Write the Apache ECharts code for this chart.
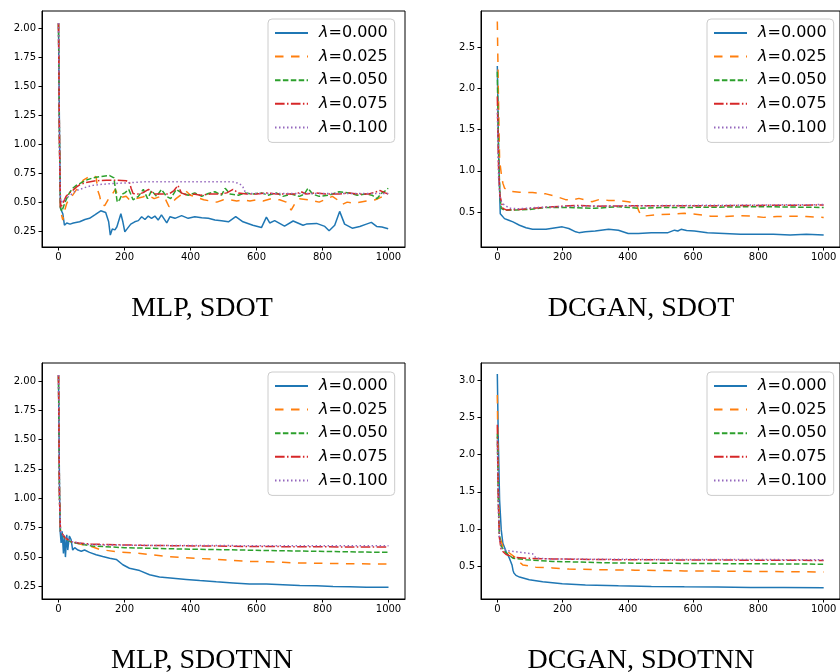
<!DOCTYPE html>
<html>
<head>
<meta charset="utf-8">
<script src="https://cdn.jsdelivr.net/npm/echarts@6/dist/echarts.min.js"></script>
<style>html,body{margin:0;padding:0;background:#fff;}#c{width:840px;height:672px;}</style>
</head>
<body>
<div id="c"></div>
<script>
// ---------- data ----------
const seriesNames = ['λ=0.000', 'λ=0.025', 'λ=0.050', 'λ=0.075', 'λ=0.100'];
const panelTitles = ['MLP, SDOT', 'DCGAN, SDOT', 'MLP, SDOTNN', 'DCGAN, SDOTNN'];
const xTicks = [0, 200, 400, 600, 800, 1000];
const yTicksMLP = [0.25, 0.50, 0.75, 1.00, 1.25, 1.50, 1.75, 2.00];
const yTicksDCSDOT = [0.5, 1.0, 1.5, 2.0, 2.5];
const yTicksDCNN = [0.5, 1.0, 1.5, 2.0, 2.5, 3.0];

// MLP, SDOT
const mlpSdot0 = [[0,2.05],[3,1.1],[6,0.45],[10,0.42],[13,0.40],[18,0.30],[25,0.32],[35,0.31],[45,0.32],[64,0.33],[80,0.35],[94,0.36],[110,0.39],[128,0.425],[143,0.41],[152,0.33],[157,0.215],[163,0.267],[171,0.26],[177,0.287],[189,0.40],[195,0.33],[201,0.244],[209,0.273],[219,0.31],[231,0.33],[242,0.34],[252,0.374],[262,0.35],[272,0.38],[282,0.36],[292,0.38],[302,0.345],[312,0.39],[328,0.32],[338,0.374],[353,0.36],[373,0.383],[393,0.36],[413,0.374],[434,0.365],[454,0.36],[474,0.345],[494,0.34],[515,0.33],[537,0.374],[559,0.33],[589,0.30],[615,0.28],[630,0.37],[640,0.32],[655,0.34],[685,0.293],[711,0.337],[741,0.30],[751,0.31],[782,0.316],[807,0.29],[820,0.253],[837,0.30],[852,0.42],[867,0.31],[890,0.275],[913,0.29],[933,0.31],[948,0.325],[964,0.29],[980,0.285],[999,0.27]];
const mlpSdot1 = [[0,2.05],[3,1.0],[6,0.45],[10,0.38],[13,0.345],[18,0.42],[25,0.49],[35,0.54],[43,0.56],[55,0.61],[64,0.64],[75,0.69],[84,0.705],[99,0.73],[114,0.72],[119,0.60],[125,0.55],[130,0.48],[140,0.47],[150,0.52],[161,0.56],[172,0.61],[180,0.56],[190,0.54],[205,0.55],[215,0.52],[235,0.53],[255,0.545],[270,0.56],[290,0.53],[310,0.55],[325,0.52],[335,0.46],[345,0.50],[356,0.53],[370,0.56],[385,0.60],[400,0.56],[420,0.54],[440,0.52],[460,0.51],[480,0.50],[500,0.52],[520,0.52],[540,0.51],[560,0.52],[580,0.51],[600,0.52],[620,0.51],[645,0.53],[670,0.52],[690,0.50],[705,0.43],[715,0.48],[730,0.53],[760,0.52],[790,0.50],[830,0.55],[845,0.52],[860,0.48],[875,0.50],[895,0.49],[933,0.51],[960,0.52],[983,0.55],[999,0.54]];
const mlpSdot2 = [[0,2.04],[3,1.0],[6,0.45],[10,0.42],[15,0.46],[23,0.52],[33,0.58],[43,0.62],[54,0.645],[64,0.66],[84,0.69],[104,0.71],[124,0.72],[155,0.73],[168,0.71],[172,0.62],[178,0.50],[185,0.52],[193,0.57],[201,0.58],[213,0.61],[226,0.52],[242,0.55],[257,0.61],[270,0.53],[282,0.60],[297,0.55],[312,0.61],[327,0.55],[340,0.53],[357,0.61],[373,0.58],[393,0.56],[413,0.58],[434,0.55],[454,0.575],[474,0.59],[494,0.56],[505,0.62],[520,0.57],[545,0.56],[565,0.58],[590,0.57],[615,0.58],[635,0.56],[660,0.58],[680,0.55],[705,0.57],[730,0.55],[745,0.57],[756,0.62],[770,0.57],[790,0.55],[820,0.56],[850,0.59],[880,0.58],[905,0.56],[930,0.57],[950,0.56],[965,0.53],[980,0.58],[992,0.60],[999,0.62]];
const mlpSdot3 = [[0,2.05],[3,1.0],[6,0.45],[10,0.44],[15,0.50],[23,0.55],[33,0.58],[43,0.60],[54,0.63],[64,0.65],[84,0.67],[114,0.685],[145,0.69],[175,0.69],[205,0.685],[215,0.67],[220,0.62],[226,0.575],[240,0.57],[255,0.58],[273,0.61],[290,0.57],[310,0.57],[335,0.57],[350,0.60],[362,0.645],[372,0.58],[390,0.56],[410,0.57],[430,0.56],[460,0.57],[490,0.57],[510,0.58],[529,0.61],[545,0.58],[570,0.57],[600,0.57],[630,0.58],[660,0.57],[690,0.57],[720,0.57],[735,0.59],[750,0.57],[780,0.58],[810,0.57],[850,0.57],[880,0.58],[910,0.57],[940,0.57],[975,0.60],[990,0.58],[999,0.57]];
const mlpSdot4 = [[0,2.05],[3,1.0],[6,0.50],[9,0.50],[15,0.51],[23,0.53],[33,0.555],[43,0.575],[50,0.595],[64,0.61],[84,0.63],[104,0.645],[124,0.652],[151,0.658],[180,0.663],[212,0.667],[250,0.675],[300,0.677],[400,0.677],[500,0.677],[530,0.675],[549,0.66],[559,0.63],[566,0.585],[575,0.575],[700,0.575],[800,0.575],[900,0.575],[999,0.575]];

// DCGAN, SDOT
const dcSdot0 = [[0,2.27],[4,1.2],[9,0.48],[22,0.42],[35,0.40],[48,0.38],[68,0.34],[88,0.31],[108,0.29],[149,0.29],[179,0.31],[199,0.32],[219,0.30],[240,0.26],[250,0.25],[270,0.26],[300,0.27],[341,0.29],[371,0.28],[401,0.24],[432,0.24],[472,0.25],[523,0.25],[543,0.28],[553,0.27],[563,0.29],[580,0.275],[604,0.27],[644,0.25],[695,0.24],[745,0.23],[796,0.23],[846,0.23],[897,0.22],[947,0.23],[1000,0.22]];
const dcSdot1 = [[0,2.81],[3,2.0],[7,1.13],[12,0.97],[17,0.85],[22,0.79],[37,0.75],[68,0.74],[108,0.735],[149,0.72],[179,0.69],[209,0.65],[230,0.645],[250,0.665],[270,0.645],[290,0.625],[315,0.655],[341,0.64],[371,0.64],[401,0.625],[427,0.60],[432,0.525],[440,0.46],[447,0.45],[482,0.465],[533,0.475],[573,0.485],[614,0.47],[654,0.45],[695,0.445],[735,0.455],[776,0.45],[816,0.435],[857,0.445],[897,0.45],[947,0.445],[1000,0.435]];
const dcSdot2 = [[0,2.2],[4,1.2],[8,0.7],[12,0.545],[22,0.52],[58,0.525],[98,0.53],[149,0.555],[219,0.555],[300,0.545],[371,0.565],[432,0.545],[500,0.555],[573,0.555],[700,0.56],[800,0.565],[900,0.56],[1000,0.555]];
const dcSdot3 = [[0,1.9],[4,1.0],[8,0.7],[17,0.545],[27,0.525],[68,0.53],[120,0.55],[171,0.565],[250,0.58],[300,0.57],[400,0.575],[600,0.575],[800,0.58],[1000,0.585]];
const dcSdot4 = [[0,1.75],[4,0.9],[9,0.65],[17,0.60],[37,0.545],[68,0.54],[120,0.555],[220,0.57],[400,0.575],[600,0.58],[800,0.585],[1000,0.59]];

// MLP, SDOTNN
const mlpNN0 = [[0,2.05],[3,1.1],[5,0.72],[8,0.62],[11,0.72],[15,0.53],[18,0.68],[21,0.50],[25,0.69],[28,0.56],[33,0.68],[38,0.65],[43,0.56],[49,0.58],[59,0.56],[69,0.55],[79,0.56],[94,0.54],[114,0.52],[134,0.505],[155,0.49],[175,0.48],[195,0.435],[215,0.405],[246,0.385],[276,0.35],[306,0.33],[347,0.32],[387,0.31],[428,0.30],[478,0.29],[529,0.28],[579,0.27],[630,0.27],[680,0.264],[731,0.258],[782,0.255],[832,0.25],[883,0.247],[933,0.244],[1000,0.244]];
const mlpNN1 = [[0,2.05],[3,1.0],[6,0.72],[20,0.66],[40,0.63],[60,0.615],[80,0.60],[100,0.59],[124,0.565],[151,0.555],[175,0.545],[232,0.535],[282,0.52],[327,0.505],[377,0.495],[428,0.488],[478,0.48],[529,0.472],[579,0.463],[630,0.46],[680,0.455],[731,0.45],[808,0.447],[900,0.443],[1000,0.44]];
const mlpNN2 = [[0,2.04],[3,1.0],[6,0.72],[20,0.66],[40,0.625],[60,0.615],[100,0.595],[201,0.58],[353,0.57],[555,0.56],[757,0.55],[1000,0.54]];
const mlpNN3 = [[0,2.05],[3,1.0],[6,0.72],[20,0.665],[40,0.63],[60,0.62],[100,0.61],[252,0.60],[600,0.59],[1000,0.585]];
const mlpNN4 = [[0,2.05],[3,1.0],[6,0.72],[20,0.665],[40,0.63],[60,0.62],[100,0.605],[252,0.60],[600,0.597],[1000,0.597]];

// DCGAN, SDOTNN
const dcNN0 = [[0,3.08],[3,2.2],[7,1.39],[12,0.99],[17,0.81],[27,0.70],[37,0.61],[45,0.52],[48,0.45],[51,0.41],[57,0.38],[68,0.357],[98,0.32],[139,0.295],[199,0.268],[270,0.25],[371,0.24],[472,0.232],[573,0.227],[674,0.223],[776,0.218],[877,0.218],[1000,0.214]];
const dcNN1 = [[0,2.8],[3,1.6],[7,0.90],[17,0.77],[37,0.68],[58,0.61],[70,0.55],[78,0.52],[118,0.49],[169,0.48],[219,0.465],[320,0.455],[422,0.45],[573,0.44],[725,0.435],[1000,0.425]];
const dcNN2 = [[0,2.28],[3,1.4],[6,0.95],[12,0.77],[27,0.68],[48,0.61],[88,0.59],[170,0.567],[371,0.545],[1000,0.53]];
const dcNN3 = [[0,2.4],[3,1.4],[6,0.9],[12,0.72],[27,0.66],[48,0.625],[88,0.61],[170,0.60],[371,0.59],[1000,0.58]];
const dcNN4 = [[0,2.2],[3,1.3],[6,0.9],[12,0.75],[27,0.715],[68,0.69],[108,0.67],[114,0.64],[118,0.61],[170,0.60],[371,0.595],[1000,0.59]];

// ---------- layout / style ----------
const panels = [
  { grid: {left: 42, top: 11}, yMin: 0.112, yMax: 2.153, ticks: yTicksMLP, dec: 2, data: [mlpSdot0, mlpSdot1, mlpSdot2, mlpSdot3, mlpSdot4], legend: [268, 19], title: [202, 309] },
  { grid: {left: 481, top: 11}, yMin: 0.076, yMax: 2.936, ticks: yTicksDCSDOT, dec: 1, data: [dcSdot0, dcSdot1, dcSdot2, dcSdot3, dcSdot4], legend: [707, 19], title: [641, 309] },
  { grid: {left: 42, top: 363}, yMin: 0.143, yMax: 2.153, ticks: yTicksMLP, dec: 2, data: [mlpNN0, mlpNN1, mlpNN2, mlpNN3, mlpNN4], legend: [268, 372], title: [202, 661] },
  { grid: {left: 481, top: 363}, yMin: 0.063, yMax: 3.228, ticks: yTicksDCNN, dec: 1, data: [dcNN0, dcNN1, dcNN2, dcNN3, dcNN4], legend: [707, 372], title: [641, 661] }
];
const colors = ['#1f77b4', '#ff7f0e', '#2ca02c', '#d62728', '#9467bd'];
const dashes = ['solid', [8.5, 7.5], [5.5, 2.4], [9.6, 2.4, 1.5, 2.4], [1.5, 2.5]];

const grids = [], xAxes = [], yAxes = [], series = [], legends = [], graphics = [];
panels.forEach((p, gi) => {
  grids.push({ left: p.grid.left, top: p.grid.top, width: 363, height: 236, show: true, borderColor: '#000', borderWidth: 1, backgroundColor: 'transparent' });
  xAxes.push({
    type: 'value', gridIndex: gi, min: -50, max: 1050,
    axisLine: { show: true, onZero: false, lineStyle: { color: '#000', width: 1 } },
    axisTick: { show: true, length: 3.5, customValues: xTicks, lineStyle: { color: '#000' } },
    axisLabel: { customValues: xTicks, fontSize: 10, color: '#000', fontFamily: 'DejaVu Sans', margin: 5, formatter: v => String(v) },
    splitLine: { show: false }
  });
  yAxes.push({
    type: 'value', gridIndex: gi, min: p.yMin, max: p.yMax,
    axisLine: { show: true, onZero: false, lineStyle: { color: '#000', width: 1 } },
    axisTick: { show: true, length: 3.5, customValues: p.ticks, lineStyle: { color: '#000' } },
    axisLabel: { customValues: p.ticks, fontSize: 10, color: '#000', fontFamily: 'DejaVu Sans', margin: 6, formatter: v => v.toFixed(p.dec) },
    splitLine: { show: false }
  });
  p.data.forEach((d, si) => {
    series.push({
      type: 'line', name: seriesNames[si], xAxisIndex: gi, yAxisIndex: gi,
      data: d, symbol: 'none', showSymbol: false, smooth: false,
      lineStyle: { color: colors[si], width: 1.5, type: dashes[si] },
      itemStyle: { color: colors[si] },
      emphasis: { disabled: true }, animation: false
    });
  });
  legends.push({
    data: seriesNames, left: p.legend[0], top: p.legend[1], orient: 'vertical',
    itemWidth: 33, itemHeight: 14, itemGap: 7.6, padding: [6, 7, 7, 6],
    backgroundColor: 'rgba(255,255,255,0.8)', borderColor: '#cccccc', borderWidth: 1, borderRadius: 4,
    selectedMode: false,
    itemStyle: { color: 'rgba(0,0,0,0)', borderColor: 'rgba(0,0,0,0)', borderWidth: 0 },
    textStyle: { fontSize: 16, fontFamily: 'DejaVu Sans', color: '#000', padding: [0, 0, 0, 6],
      rich: { i: { fontStyle: 'italic', fontSize: 16, fontFamily: 'DejaVu Sans', color: '#000' } } },
    formatter: n => '{i|λ}' + n.slice(1)
  });
  graphics.push({
    type: 'text', x: p.title[0], y: p.title[1],
    style: { text: panelTitles[gi], font: '28px "Liberation Serif"', fill: '#000', textAlign: 'center', textVerticalAlign: 'middle' }
  });
});

const chart = echarts.init(document.getElementById('c'), null, { renderer: 'canvas' });
chart.setOption({
  animation: false,
  backgroundColor: '#fff',
  color: colors,
  grid: grids, xAxis: xAxes, yAxis: yAxes, series: series, legend: legends,
  graphic: graphics
});
</script>
</body>
</html>
